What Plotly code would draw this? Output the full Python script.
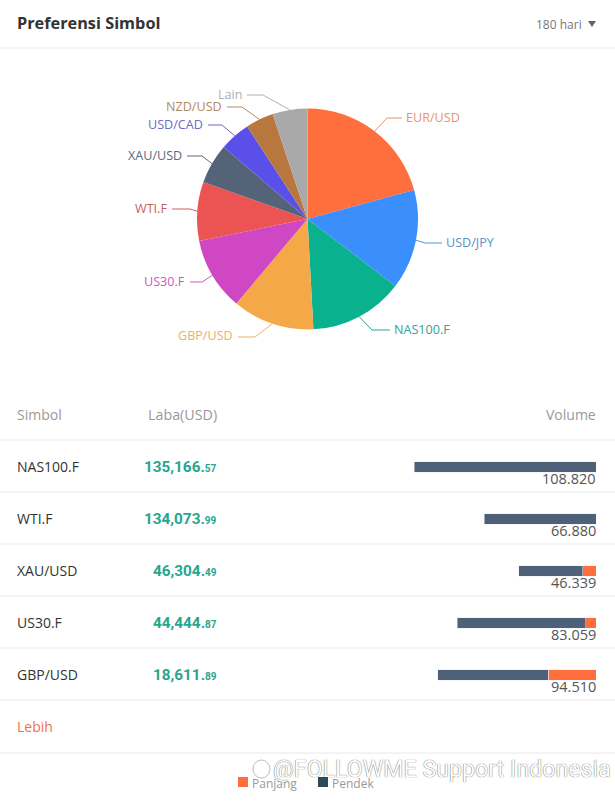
import math
import plotly.graph_objects as go

W, H = 615, 808

# pie
pie_labels = ["EUR/USD", "USD/JPY", "NAS100.F", "GBP/USD", "US30.F", "WTI.F", "XAU/USD", "USD/CAD", "NZD/USD", "Lain"]
pie_values = [20.8, 14.6, 13.8, 12.0, 10.7, 8.6, 5.9, 4.5, 4.1, 5.1]
pie_colors = ["#ff6f3e", "#3a8ffc", "#0ab18f", "#f5a848", "#cf47c3", "#ec5353", "#556379", "#5a4fe8", "#b8773f", "#a9a9a9"]
label_colors = ["#e8936f", "#5b93c9", "#2fa593", "#eeb063", "#c45cbc", "#c9605f", "#5d6a7d", "#6f68c9", "#b58a5c", "#b0b0b0"]

# table
symbols = ["NAS100.F", "WTI.F", "XAU/USD", "US30.F", "GBP/USD"]
profit_main = ["135,166.", "134,073.", "46,304.", "44,444.", "18,611."]
profit_cents = ["57", "99", "49", "87", "89"]
volume_labels = ["108.820", "66.880", "46.339", "83.059", "94.510"]
long_vol = [0, 0, 8.0, 6.0, 28.5]
short_vol = [108.82, 66.88, 38.339, 77.059, 66.01]

# pixel helpers, page is drawn with no margin
def px(x):
    return x / W

def py(y):
    return 1 - y / H

cx, cy, r = 307.5, 219, 110.5

fig = go.Figure()
fig.add_trace(go.Pie(
    labels=pie_labels, values=pie_values, sort=False, direction="clockwise", rotation=0,
    marker=dict(colors=pie_colors), textinfo="none", showlegend=False,
    domain=dict(x=[px(cx - r), px(cx + r)], y=[py(cy + r), py(cy - r)]),
))

# volume bars, orange sits on the right edge
fig.add_trace(go.Bar(y=symbols, x=long_vol, orientation="h", name="Panjang", marker_color="#ff6f3e", width=0.2,
                     xaxis="x", yaxis="y", showlegend=False))
fig.add_trace(go.Bar(y=symbols, x=short_vol, orientation="h", name="Pendek", marker_color="#4f6079", width=0.2,
                     xaxis="x", yaxis="y", showlegend=False))

shapes = []
annots = []

def text(x, y, s, size=14, color="#333", anchor="left", font="Open Sans", **kw):
    annots.append(dict(x=px(x), y=py(y), xref="paper", yref="paper", text=s, showarrow=False,
                       borderpad=0, borderwidth=0,
                       xanchor=anchor, yanchor="middle", font=dict(size=size, color=color, family=font, **kw)))

def hline(y):
    shapes.append(dict(type="line", xref="paper", yref="paper", x0=0, x1=1, y0=py(y), y1=py(y),
                       line=dict(color="#e8e8e8", width=1)))

# pie labels with elbow lines
elbows = [(387, 118), (425, 243), (372, 330), (255, 337), (202, 282), (190, 209), (202, 156), (222, 125), (242, 107), (263, 95)]
line_ends = [402, 442, 390, 238, 190, 172, 187, 208, 227, 247]
total = sum(pie_values)
acc = 0
for name, val, col, tcol, (ex, ey), lx in zip(pie_labels, pie_values, pie_colors, label_colors, elbows, line_ends):
    a = math.radians((acc + val / 2) / total * 360)
    acc += val
    sx, sy = cx + r * math.sin(a), cy - r * math.cos(a)
    d = "M %f %f L %f %f L %f %f" % (px(sx), py(sy), px(ex), py(ey), px(lx), py(ey))
    shapes.append(dict(type="path", path=d, xref="paper", yref="paper", line=dict(color=tcol, width=1)))
    if lx > ex:
        text(lx + 4, ey - 0.5, name, size=12.6, color=tcol)
    else:
        text(lx - 5, ey - 1, name, size=12.6, color=tcol, anchor="right")

# header
text(17, 23, "<b>Preferensi Simbol</b>", size=16.3, color="#333")
text(582, 24, "180 hari", size=12, color="#777", anchor="right")
shapes.append(dict(type="path", xref="paper", yref="paper", fillcolor="#666", line=dict(width=0),
                   path="M %f %f L %f %f L %f %f Z" % (px(588), py(21), px(596), py(21), px(592), py(27))))

# table head
text(17, 414.5, "Simbol", color="#999")
text(217, 414.5, "Laba(USD)", color="#999", size=14.3, anchor="right")
text(596, 414.5, "Volume", color="#999", anchor="right")

for y in [48, 440, 492, 544, 596, 648, 700, 753]:
    hline(y)

for i, s in enumerate(symbols):
    row_y = 466.5 + i * 52
    text(17, row_y, s, color="#333")
    text(217, row_y + 0.5, "<b>%s</b><span style='font-size:10px'><b>%s</b></span>" % (profit_main[i], profit_cents[i]),
         size=15.3, color="#26a68e", anchor="right", font="Roboto")
    text(596, row_y + 12, volume_labels[i], size=14.5, color="#555", anchor="right")

text(17, 726.5, "Lebih", color="#f07050")

# legend
shapes.append(dict(type="rect", xref="paper", yref="paper", x0=px(238), x1=px(248), y0=py(787), y1=py(777),
                   fillcolor="#ff6f3e", line=dict(width=0)))
shapes.append(dict(type="rect", xref="paper", yref="paper", x0=px(318), x1=px(328), y0=py(787), y1=py(777),
                   fillcolor="#2f4858", line=dict(width=0)))
text(252, 783, "Panjang", size=12, color="#999")
text(332, 783, "Pendek", size=12, color="#999")

# watermark
text(273, 768.5, "@FOLLOWME Support Indonesia", size=23.2, color="#ffffff", font="Roboto", shadow="0 0 1px #222")
shapes.append(dict(type="circle", xref="paper", yref="paper", x0=px(253), x1=px(270), y0=py(778), y1=py(760),
                   line=dict(color="#bbb", width=1)))

px_per_unit = 1.672
fig.update_layout(
    width=W, height=H, autosize=False, margin=dict(l=0, r=0, t=0, b=0),
    paper_bgcolor="white", plot_bgcolor="white", barmode="stack",
    xaxis=dict(domain=[px(400), px(596)], range=[196 / px_per_unit, 0], visible=False, fixedrange=True),
    yaxis=dict(domain=[py(701), py(441)], range=[4.5, -0.5], visible=False, type="category", fixedrange=True,
               categoryorder="array", categoryarray=symbols),
    shapes=shapes, annotations=annots,
)

fig.write_html("out.html", post_script="document.body.style.margin='0';", config=dict(displayModeBar=False))
